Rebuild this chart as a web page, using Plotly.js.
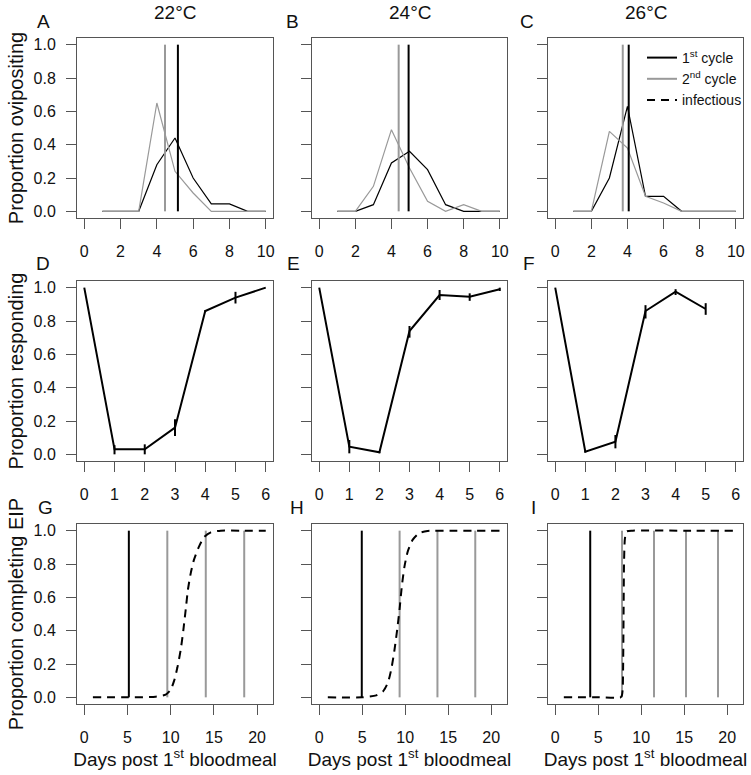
<!DOCTYPE html>
<html><head><meta charset="utf-8">
<script src="https://cdn.plot.ly/plotly-3.0.1.min.js"></script>
<style>html,body{margin:0;padding:0;background:#fff}#chart{width:751px;height:775px}</style>
</head><body><div id="chart"></div>
<script>
// ---------- data ----------
const temps = ['22°C', '24°C', '26°C'];
const panelLetters = ['A','B','C','D','E','F','G','H','I'];

// Row 1: proportion ovipositing by day (1st and 2nd gonotrophic cycle)
const ovipDays = [1,2,3,4,5,6,7,8,9,10];
const ovip1st22 = [0,0,0,0.28,0.44,0.20,0.045,0.045,0,0];
const ovip2nd22 = [0,0,0,0.65,0.24,0.11,0,0,0,0];
const ovip1st24 = [0,0,0.04,0.29,0.36,0.25,0.04,0,0,0];
const ovip2nd24 = [0,0,0.15,0.49,0.26,0.06,0,0.04,0,0];
const ovip1st26 = [0,0,0.20,0.63,0.09,0.09,0,0,0,0];
const ovip2nd26 = [0,0,0.48,0.38,0.09,0.05,0,0,0,0];
const meanOvip1st = [5.16, 4.95, 4.07];
const meanOvip2nd = [4.45, 4.40, 3.74];

// Row 2: proportion responding, with error bars
const respDays22 = [0,1,2,3,4,5,6];
const resp22   = [1.0,0.03,0.03,0.16,0.86,0.94,1.0];
const resp22Up = [0,0.025,0.03,0.05,0.005,0.035,0];
const resp22Lo = [0,0.03,0.03,0.05,0.005,0.035,0];
const respDays24 = [0,1,2,3,4,5,6];
const resp24   = [1.0,0.046,0.012,0.74,0.956,0.946,0.99];
const resp24Up = [0,0.04,0.005,0.03,0.03,0.02,0.01];
const resp24Lo = [0,0.04,0.005,0.04,0.03,0.025,0.01];
const respDays26 = [0,1,2,3,4,5];
const resp26   = [1.0,0.016,0.076,0.86,0.976,0.872];
const resp26Up = [0,0.005,0.04,0.035,0.015,0.035];
const resp26Lo = [0,0.005,0.04,0.045,0.02,0.035];

// Row 3: later oviposition cycles and proportion completing EIP
const laterCycles22 = [9.61, 14.06, 18.51];
const laterCycles24 = [9.35, 13.75, 18.15];
const laterCycles26 = [7.77, 11.49, 15.21, 18.93];
const eipDays22 = [1,5,8.26,9.42,10.0,10.4,10.78,11.16,11.47,11.74,12.0,12.33,12.7,13.29,13.87,14.65,15.8,18,21];
const eipProp22 = [0,0,0.004,0.016,0.045,0.1,0.18,0.285,0.405,0.527,0.647,0.747,0.826,0.906,0.962,0.99,1,1,1];
const eipDays24 = [1,5,6.64,7.41,7.99,8.38,8.76,9.07,9.34,9.61,9.92,10.3,10.88,11.65,12.6,16,21];
const eipProp24 = [0,0,0.012,0.035,0.088,0.168,0.287,0.407,0.527,0.667,0.786,0.876,0.946,0.986,0.998,1,1];
const eipDays26 = [1,5,7.6,7.75,7.85,7.9,7.95,8.0,8.1,8.3,9,15,21];
const eipProp26 = [0,0,0,0.01,0.05,0.2,0.5,0.8,0.95,0.995,1,1,1];

// ---------- geometry (pixel boxes) ----------
const W = 751, H = 775;
const cols = [[77,273],[312,507],[548,743]];
const rows = [[38,218],[281,461],[524,704]];
const GRAY = '#999999';
const FONT = 'Liberation Sans, Arial, sans-serif';

const traces = [];
function ax(i){ return i===0 ? '' : String(i+1); }
function addTrace(panel, t){
  t.xaxis = 'x' + ax(panel); t.yaxis = 'y' + ax(panel);
  t.type = 'scatter'; t.hoverinfo = 'skip';
  if (t.showlegend === undefined) t.showlegend = false;
  traces.push(t);
}
function vlines(vals){
  const x = [], y = [];
  vals.forEach(v => { x.push(v, v, null); y.push(0, 1, null); });
  return {x, y};
}

// Row 1
const ovip1 = [ovip1st22, ovip1st24, ovip1st26];
const ovip2 = [ovip2nd22, ovip2nd24, ovip2nd26];
for (let c = 0; c < 3; c++) {
  addTrace(c, {x: ovipDays, y: ovip1[c], mode:'lines', line:{color:'#000', width:1.2}});
  addTrace(c, {x: ovipDays, y: ovip2[c], mode:'lines', line:{color:GRAY, width:1.2}});
  const g = vlines([meanOvip2nd[c]]);
  addTrace(c, {x: g.x, y: g.y, mode:'lines', line:{color:GRAY, width:2},
    name:'2<sup>nd</sup> cycle', showlegend: c===2, legendrank:2});
  const b = vlines([meanOvip1st[c]]);
  addTrace(c, {x: b.x, y: b.y, mode:'lines', line:{color:'#000', width:2},
    name:'1<sup>st</sup> cycle', showlegend: c===2, legendrank:1});
}

// Row 2
const rd = [respDays22, respDays24, respDays26];
const rv = [resp22, resp24, resp26];
const ru = [resp22Up, resp24Up, resp26Up];
const rl = [resp22Lo, resp24Lo, resp26Lo];
for (let c = 0; c < 3; c++) {
  addTrace(3 + c, {x: rd[c], y: rv[c], mode:'lines', line:{color:'#000', width:2},
    error_y:{type:'data', symmetric:false, array: ru[c], arrayminus: rl[c], width:0, thickness:2, color:'#000'}});
}

// Row 3
const later = [laterCycles22, laterCycles24, laterCycles26];
const ed = [eipDays22, eipDays24, eipDays26];
const ep = [eipProp22, eipProp24, eipProp26];
for (let c = 0; c < 3; c++) {
  const g = vlines(later[c]);
  addTrace(6 + c, {x: g.x, y: g.y, mode:'lines', line:{color:GRAY, width:2}});
  const b = vlines([meanOvip1st[c]]);
  addTrace(6 + c, {x: b.x, y: b.y, mode:'lines', line:{color:'#000', width:2}});
  addTrace(6 + c, {x: ed[c], y: ep[c], mode:'lines', line:{color:'#000', width:2, dash:'8px,6px', shape:'spline', smoothing:0.6},
    name:'infectious', showlegend: c===0, legendrank:3});
}

// ---------- layout ----------
const layout = {
  width: W, height: H,
  margin: {l:0, r:0, t:0, b:0},
  paper_bgcolor:'#fff', plot_bgcolor:'#fff',
  font: {family: FONT, color:'#111', size:16},
  showlegend: true,
  legend: {x: 642/W, y: 1 - 42/H, xanchor:'left', yanchor:'top', bgcolor:'rgba(0,0,0,0)',
           font:{size:14, family: FONT, color:'#111'}, tracegroupgap:0, itemwidth:30},
  annotations: [],
  hovermode: false
};

const xRanges = [[-0.4,10.4],[-0.24,6.24],[-0.84,21.84]];
const xTicks = [[0,2,4,6,8,10],[0,1,2,3,4,5,6],[0,5,10,15,20]];
const yTitles = ['Proportion ovipositing','Proportion responding','Proportion completing EIP'];
const yTickVals = [0,0.2,0.4,0.6,0.8,1.0];

for (let r = 0; r < 3; r++) {
  for (let c = 0; c < 3; c++) {
    const i = r*3 + c;
    const base = {showline:true, mirror:true, linecolor:'#555', linewidth:1,
      ticks:'outside', ticklen:10, tickcolor:'#555', tickwidth:1,
      showgrid:false, zeroline:false, fixedrange:true,
      tickfont:{size:16, family: FONT, color:'#111'}};
    const xa = Object.assign({}, base, {
      domain:[cols[c][0]/W, cols[c][1]/W], anchor:'y'+ax(i),
      range: xRanges[r], tickmode:'array', tickvals: xTicks[r],
      ticklabelstandoff: 9
    });
    if (r === 2) xa.title = {text:'Days post 1<sup>st</sup> bloodmeal', font:{size:19, family:FONT, color:'#111'}, standoff:7};
    const ya = Object.assign({}, base, {
      domain:[1 - rows[r][1]/H, 1 - rows[r][0]/H], anchor:'x'+ax(i),
      range:[-0.04,1.04], tickmode:'array', tickvals: yTickVals, tickformat:'.1f',
      showticklabels: c === 0, ticklabelstandoff: 7
    });
    if (c === 0) ya.title = {text: yTitles[r], font:{size:20, family:FONT, color:'#111'}, standoff:4};
    layout['xaxis' + ax(i)] = xa;
    layout['yaxis' + ax(i)] = ya;
  }
}

// column titles
const colTitleY = 12;
temps.forEach((t, c) => {
  layout.annotations.push({text: t, xref:'paper', yref:'paper',
    x: (cols[c][0] + cols[c][1]) / 2 / W, y: 1 - colTitleY/H,
    xanchor:'center', yanchor:'middle', showarrow:false, font:{size:19, family:FONT, color:'#111'}});
});
// panel letters
const letterPos = [[43,21],[292,21],[527,21],[43,263],[293,263],[529,263],[45,507],[297,507],[533,507]];
panelLetters.forEach((L, i) => {
  layout.annotations.push({text: L, xref:'paper', yref:'paper',
    x: letterPos[i][0]/W, y: 1 - letterPos[i][1]/H,
    xanchor:'center', yanchor:'middle', showarrow:false, font:{size:19, family:FONT, color:'#111'}});
});

Plotly.newPlot('chart', traces, layout, {staticPlot:true, displayModeBar:false});
</script></body></html>
